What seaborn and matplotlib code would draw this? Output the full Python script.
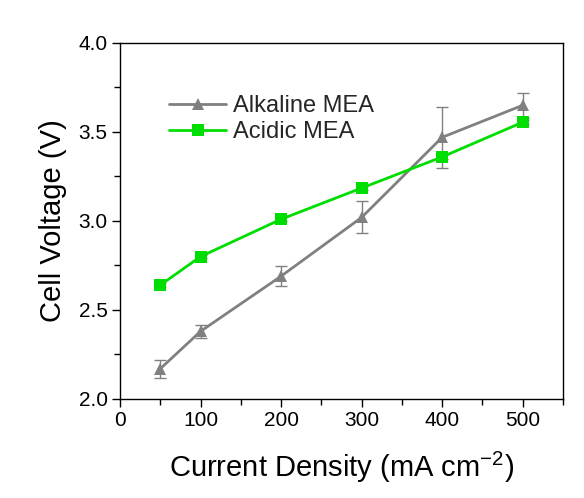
import matplotlib
matplotlib.use("Agg")
import matplotlib.pyplot as plt
from matplotlib.ticker import MultipleLocator
import seaborn as sns
import pandas as pd

current = [50, 100, 200, 300, 400, 500]
alkaline = [2.17, 2.38, 2.69, 3.02, 3.47, 3.65]
alkaline_err = [0.05, 0.035, 0.055, 0.09, 0.17, 0.07]
acidic = [2.64, 2.80, 3.01, 3.185, 3.36, 3.555]
acidic_err = [0.01, 0.01, 0.01, 0.01, 0.01, 0.01]
series_names = ["Alkaline MEA", "Acidic MEA"]

sns.set_style("ticks")
plt.rcParams['font.family'] = ['Liberation Sans', 'DejaVu Sans']
plt.rcParams['mathtext.fontset'] = 'custom'
plt.rcParams['mathtext.rm'] = 'Liberation Sans'
plt.rcParams['mathtext.it'] = 'Liberation Sans'

df = pd.DataFrame({
    "current": current * 2,
    "voltage": alkaline + acidic,
    "series": [series_names[0]] * len(current) + [series_names[1]] * len(current),
})

gray = "#808080"
green = "#00DD00"

fig = plt.figure(figsize=(5.84, 4.98), dpi=100)
ax = fig.add_axes([0.2055, 0.1988, 0.7585, 0.7149])

ax.errorbar(current, alkaline, yerr=alkaline_err, fmt="none", ecolor=gray,
            elinewidth=1.0, capsize=4, capthick=1.0, zorder=2)
ax.errorbar(current, acidic, yerr=acidic_err, fmt="none", ecolor=gray,
            elinewidth=1.0, capsize=4, capthick=1.0, zorder=2)

sns.lineplot(data=df, x="current", y="voltage", hue="series", style="series",
             palette={series_names[0]: gray, series_names[1]: green},
             markers={series_names[0]: "^", series_names[1]: "s"},
             dashes=False, markersize=9, markeredgewidth=0, linewidth=2,
             ax=ax, zorder=3)

ax.set_xlim(0, 550)
ax.set_ylim(2.0, 4.0)
ax.xaxis.set_major_locator(MultipleLocator(100))
ax.xaxis.set_minor_locator(MultipleLocator(50))
ax.yaxis.set_major_locator(MultipleLocator(0.5))
ax.yaxis.set_minor_locator(MultipleLocator(0.25))
ax.tick_params(axis="both", which="major", direction="out", length=6, width=1,
               labelsize=15, color="black", labelcolor="black", pad=3)
ax.tick_params(axis="both", which="minor", direction="out", length=4, width=1,
               color="black")
for s in ax.spines.values():
    s.set_linewidth(1.0)
    s.set_color("black")

ax.set_xlabel("Current Density (mA cm$^{-2}$)", fontsize=21, labelpad=14,
              color="black")
ax.set_ylabel("Cell Voltage (V)", fontsize=21, labelpad=8, color="black")

leg = ax.legend(loc="upper left", bbox_to_anchor=(0.09, 0.88), frameon=False,
                fontsize=17, handlelength=2.4, handletextpad=0.3,
                labelspacing=0.18, borderaxespad=0)

fig.savefig("out.png", dpi=100, facecolor="white")
